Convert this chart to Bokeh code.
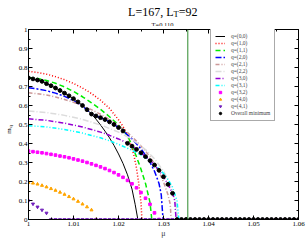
import math
from bokeh.plotting import figure
from bokeh.layouts import column, row
from bokeh.models import Span, LinearAxis, FixedTicker, CustomJSTickFormatter, Range1d
from bokeh.core.properties import value
from bokeh.embed import file_html
from bokeh.resources import INLINE

# ---------------- data ----------------
mu_step = 0.001
transition_mu = 1.0354

title_main = "L=167, L"
title_sub = "T"
title_end = "=92"
subtitle = "T=0.110"
x_label = "μ"
y_label = "m"
y_label_sub = "q"

x_ticks = [1.0, 1.01, 1.02, 1.03, 1.04, 1.05, 1.06]
x_minor = [1.005, 1.015, 1.025, 1.035, 1.045, 1.055]
y_ticks = [0.0, 0.1, 0.2, 0.3, 0.4, 0.5, 0.6, 0.7, 0.8, 0.9, 1.0]
y_minor = [0.05, 0.15, 0.25, 0.35, 0.45, 0.55, 0.65, 0.75, 0.85, 0.95]

mu_00 = [1.000, 1.001, 1.002, 1.003, 1.004, 1.005, 1.006, 1.007, 1.008, 1.009, 1.010, 1.011, 1.012, 1.013, 1.014,
         1.015, 1.016, 1.017, 1.018, 1.019, 1.020, 1.021, 1.022, 1.023, 1.0237, 1.0243]
m_00 = [0.745, 0.740, 0.734, 0.727, 0.715, 0.704, 0.692, 0.679, 0.665, 0.651, 0.636, 0.619, 0.600, 0.578, 0.555,
        0.528, 0.498, 0.465, 0.430, 0.390, 0.345, 0.295, 0.235, 0.160, 0.080, 0.0]

mu_10 = [1.000, 1.002, 1.004, 1.006, 1.008, 1.010, 1.012, 1.014, 1.016, 1.018, 1.020, 1.021, 1.022, 1.023,
         1.0235, 1.024, 1.0245, 1.025, 1.0252]
m_10 = [0.780, 0.774, 0.765, 0.752, 0.736, 0.716, 0.692, 0.663, 0.628, 0.585, 0.525, 0.490, 0.445, 0.375,
        0.330, 0.270, 0.190, 0.090, 0.0]

mu_11 = [1.000, 1.002, 1.004, 1.006, 1.008, 1.010, 1.012, 1.014, 1.016, 1.018, 1.020, 1.021, 1.022, 1.023,
         1.024, 1.025, 1.026, 1.027, 1.0274]
m_11 = [0.748, 0.742, 0.732, 0.717, 0.698, 0.674, 0.646, 0.614, 0.580, 0.541, 0.497, 0.472, 0.440, 0.390,
        0.330, 0.265, 0.190, 0.090, 0.0]

mu_20 = [1.000, 1.002, 1.004, 1.006, 1.008, 1.010, 1.012, 1.013, 1.014, 1.015, 1.016, 1.017, 1.018, 1.019,
         1.020, 1.021, 1.022, 1.023, 1.024, 1.025, 1.026, 1.027, 1.028, 1.029, 1.0295, 1.0299]
m_20 = [0.693, 0.687, 0.678, 0.665, 0.648, 0.626, 0.596, 0.577, 0.557, 0.545, 0.536, 0.526, 0.514, 0.500,
        0.484, 0.466, 0.446, 0.424, 0.399, 0.371, 0.339, 0.301, 0.254, 0.190, 0.130, 0.0]

mu_21 = [1.000, 1.002, 1.004, 1.006, 1.008, 1.010, 1.012, 1.014, 1.016, 1.018, 1.020, 1.022, 1.024, 1.026,
         1.027, 1.028, 1.029, 1.030, 1.031, 1.0315, 1.0317]
m_21 = [0.667, 0.662, 0.655, 0.645, 0.632, 0.617, 0.599, 0.578, 0.554, 0.526, 0.494, 0.457, 0.413, 0.360,
        0.330, 0.293, 0.250, 0.198, 0.130, 0.080, 0.0]

mu_22 = [1.000, 1.004, 1.008, 1.012, 1.016, 1.020, 1.022, 1.024, 1.026, 1.028, 1.030, 1.031, 1.032, 1.0328, 1.0332]
m_22 = [0.571, 0.563, 0.548, 0.527, 0.498, 0.460, 0.435, 0.405, 0.368, 0.320, 0.255, 0.210, 0.150, 0.080, 0.0]

mu_30 = [1.000, 1.004, 1.008, 1.012, 1.016, 1.018, 1.020, 1.021, 1.022, 1.023, 1.024, 1.025, 1.026, 1.027,
         1.028, 1.029, 1.030, 1.031, 1.032, 1.0325, 1.0328]
m_30 = [0.530, 0.522, 0.507, 0.487, 0.460, 0.443, 0.424, 0.413, 0.401, 0.386, 0.369, 0.351, 0.331, 0.310,
        0.287, 0.259, 0.225, 0.185, 0.138, 0.100, 0.0]

mu_31 = [1.000, 1.004, 1.008, 1.012, 1.016, 1.018, 1.020, 1.022, 1.024, 1.026, 1.028, 1.029, 1.030, 1.031,
         1.032, 1.033, 1.0334]
m_31 = [0.494, 0.487, 0.474, 0.455, 0.430, 0.414, 0.396, 0.375, 0.352, 0.324, 0.290, 0.268, 0.242, 0.210,
        0.170, 0.100, 0.0]

# marker series on the regular mu grid (step mu_step from 1.000)
m_32 = [0.360, 0.357, 0.354, 0.351, 0.347, 0.343, 0.339, 0.334, 0.330, 0.325, 0.319, 0.313, 0.307, 0.300,
        0.293, 0.285, 0.277, 0.268, 0.258, 0.247, 0.235, 0.222, 0.206, 0.188, 0.167, 0.142, 0.112, 0.080,
        0.035, 0.0]
m_40 = [0.195, 0.191, 0.186, 0.179, 0.171, 0.162, 0.153, 0.143, 0.132, 0.120, 0.108, 0.095, 0.081, 0.066,
        0.050, 0.0]
m_41 = [0.098, 0.082, 0.066, 0.050, 0.034] + [0.0] * 56
m_min = [0.745, 0.740, 0.734, 0.727, 0.715, 0.704, 0.692, 0.679, 0.665, 0.651, 0.636, 0.619, 0.600, 0.578,
         0.555, 0.545, 0.536, 0.526, 0.514, 0.500, 0.484, 0.466, 0.401, 0.386, 0.369, 0.351, 0.331, 0.310,
         0.287, 0.259, 0.225, 0.185, 0.138] + [0.0] * 28


def grid(vals):
    return [round(1.0 + mu_step * i, 4) for i in range(len(vals))]


SERIF = "Liberation Serif"

TOTAL_W = 308
TOTAL_H = 240
TITLE_H = 26
MAIN_H = TOTAL_H - TITLE_H
LAB_W = 15
BORDER_TOP = 3
BORDER_BOTTOM = 18

# ---------------- main plot ----------------
p = figure(width=TOTAL_W - LAB_W, height=MAIN_H, x_range=Range1d(1.0, 1.06), y_range=Range1d(0.0, 1.0),
           output_backend="svg", toolbar_location=None, title=None,
           min_border_left=10, min_border_right=10, min_border_top=BORDER_TOP, min_border_bottom=BORDER_BOTTOM)
p.xgrid.visible = False
p.ygrid.visible = False
p.outline_line_color = "black"
p.background_fill_color = "white"
p.border_fill_color = "white"

fmt = CustomJSTickFormatter(code="return String(Number(tick.toFixed(3)));")
blank = CustomJSTickFormatter(code="return '';")


def style_axis(ax, labels=True):
    ax.major_tick_in = 4
    ax.major_tick_out = 0
    ax.minor_tick_in = 2
    ax.minor_tick_out = 0
    ax.axis_line_color = "black"
    ax.major_tick_line_color = "black"
    ax.minor_tick_line_color = "black"
    ax.major_label_text_font = SERIF
    ax.major_label_text_color = "black"
    if labels:
        ax.major_label_text_font_size = "7px"
        ax.major_label_standoff = 2
    else:
        ax.major_label_text_font_size = "1px"
        ax.major_label_standoff = 0


p.xaxis.ticker = FixedTicker(ticks=x_ticks, minor_ticks=x_minor)
p.yaxis.ticker = FixedTicker(ticks=y_ticks, minor_ticks=y_minor)
p.xaxis.formatter = fmt
p.yaxis.formatter = fmt
style_axis(p.xaxis[0])
style_axis(p.yaxis[0])
p.yaxis.major_label_standoff = 1
p.xaxis.axis_label = x_label
p.xaxis.axis_label_text_font = SERIF
p.xaxis.axis_label_text_font_size = "8px"
p.xaxis.axis_label_text_font_style = "normal"
p.xaxis.axis_label_standoff = 0

top_ax = LinearAxis(ticker=FixedTicker(ticks=x_ticks, minor_ticks=x_minor), formatter=blank)
right_ax = LinearAxis(ticker=FixedTicker(ticks=y_ticks, minor_ticks=y_minor), formatter=blank)
style_axis(top_ax, labels=False)
style_axis(right_ax, labels=False)
p.add_layout(top_ax, "above")
p.add_layout(right_ax, "right")

# ---------------- series ----------------
p.line(mu_00, m_00, line_color="black", line_width=1, legend_label="q=(0,0)")
p.line(mu_10, m_10, line_color="#ff0000", line_width=1.5, line_dash="1 2", legend_label="q=(1,0)")
p.line(mu_11, m_11, line_color="#00ee00", line_width=1.5, line_dash="5 3", legend_label="q=(1,1)")
p.line(mu_20, m_20, line_color="#0000ff", line_width=1.5, line_dash="6 2 2 2", legend_label="q=(2,0)")
p.line(mu_21, m_21, line_color="#cc9999", line_width=1.5, line_dash="4 2 1 2", legend_label="q=(2,1)")
p.line(mu_22, m_22, line_color="#dcdcdc", line_width=1.5, line_dash="6 2 1 2", legend_label="q=(2,2)")
p.line(mu_30, m_30, line_color="#9400d3", line_width=1.5, line_dash="5 2 1 2", legend_label="q=(3,0)")
p.line(mu_31, m_31, line_color="#00ffff", line_width=1.5, line_dash="4 2 1 2 1 2", legend_label="q=(3,1)")
p.scatter(grid(m_32), m_32, marker="square", size=2.6, color="#ff00ff", legend_label="q=(3,2)")
p.scatter(grid(m_40), m_40, marker="triangle", size=3, color="#ffa500", legend_label="q=(4,0)")
p.scatter(grid(m_41), m_41, marker="inverted_triangle", size=3, color="#7221bc", legend_label="q=(4,1)")
p.scatter(grid(m_min), m_min, marker="circle", size=3.8, color="black", legend_label="Overall minimum")

p.add_layout(Span(location=transition_mu, dimension="height", line_color="#2e8b2e", line_width=1))

leg = p.legend[0]
leg.location = (182, 98)
leg.label_text_font = SERIF
leg.label_text_font_size = "5.5px"
leg.glyph_width = 10
leg.glyph_height = 6
leg.label_height = 6
leg.label_standoff = 6
leg.spacing = 1
leg.padding = 4
leg.margin = 0
leg.border_line_color = "#555555"
leg.border_line_width = 1
leg.background_fill_alpha = 1.0

# ---------------- title strip (pixel coordinates) ----------------
t = figure(width=TOTAL_W, height=TITLE_H, x_range=Range1d(0, TOTAL_W), y_range=Range1d(TITLE_H, 0),
           output_backend="svg", toolbar_location=None, title=None,
           x_axis_location=None, y_axis_location=None, min_border=0)
t.grid.visible = False
t.outline_line_color = None
t.border_fill_color = "white"
J = 173
t.text(x=[J], y=[11], text=[title_main], text_align="right", text_baseline="alphabetic",
       text_font=value(SERIF), text_font_size="12px", text_color="black")
t.text(x=[J], y=[13.8], text=[title_sub], text_align="left", text_baseline="alphabetic",
       text_font=value(SERIF), text_font_size="8.5px", text_color="black")
t.text(x=[J + 5.3], y=[11], text=[title_end], text_align="left", text_baseline="alphabetic",
       text_font=value(SERIF), text_font_size="12px", text_color="black")
t.text(x=[162], y=[23.5], text=[subtitle], text_align="center", text_baseline="alphabetic",
       text_font=value(SERIF), text_font_size="6.5px", text_color="black")

# ---------------- y label strip ----------------
yl = figure(width=LAB_W, height=MAIN_H, x_range=Range1d(0, LAB_W), y_range=p.y_range,
            output_backend="svg", toolbar_location=None, title=None,
            x_axis_location=None, y_axis_location=None,
            min_border_left=0, min_border_right=0,
            min_border_top=BORDER_TOP, min_border_bottom=BORDER_BOTTOM)
yl.grid.visible = False
yl.outline_line_color = None
yl.border_fill_color = "white"
yl.text(x=[8.5], y=[0.465], text=[y_label], text_align="center", text_baseline="alphabetic",
        angle=math.pi / 2, text_font=value(SERIF), text_font_size="7px", text_color="black")
yl.text(x=[10.0], y=[0.49], text=[y_label_sub], text_align="center", text_baseline="alphabetic",
        angle=math.pi / 2, text_font=value(SERIF), text_font_size="5px", text_color="black")

layout = column(t, row(yl, p, spacing=0), spacing=0)
open("out.html", "w").write(file_html(layout, INLINE))
